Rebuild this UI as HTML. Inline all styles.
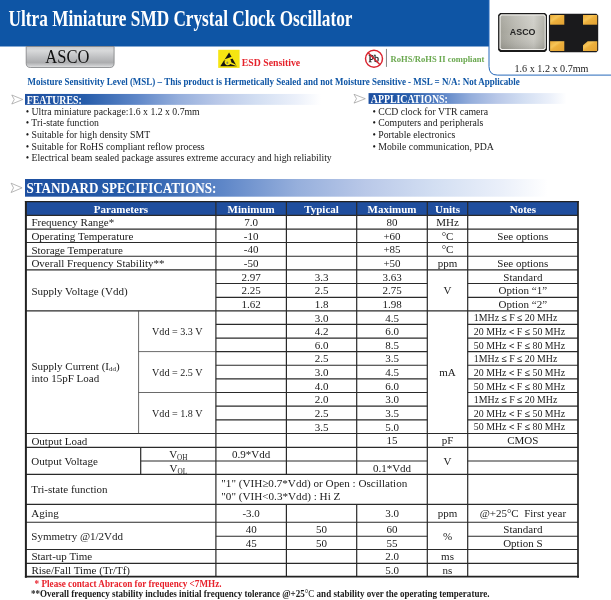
<!DOCTYPE html>
<html lang="en"><head><meta charset="utf-8"><title>Ultra Miniature SMD Crystal Clock Oscillator ASCO</title>
<style>
html,body{margin:0;padding:0;background:#fff;}
body{width:611px;height:600px;overflow:hidden;font-family:"Liberation Serif", serif;}
svg{display:block;font-family:"Liberation Serif", serif;}
text{white-space:pre;}
</style></head><body>
<svg width="611" height="600" viewBox="0 0 611 600">
<defs>
<linearGradient id="gbar" x1="0" x2="1" y1="0" y2="0"><stop offset="0" stop-color="#1d4fa0"/><stop offset="0.2" stop-color="#265caa"/><stop offset="0.38" stop-color="#5f87c8"/><stop offset="0.52" stop-color="#96afdc"/><stop offset="0.65" stop-color="#b9c8e8"/><stop offset="0.78" stop-color="#d2def2"/><stop offset="0.915" stop-color="#ebf0fa"/><stop offset="1" stop-color="#ffffff"/></linearGradient>
<linearGradient id="gtab" x1="0" x2="0" y1="0" y2="1"><stop offset="0" stop-color="#cbccce"/><stop offset="0.2" stop-color="#d8d9da"/><stop offset="0.5" stop-color="#c0c1c3"/><stop offset="0.76" stop-color="#acadaf"/><stop offset="0.9" stop-color="#c9cacc"/><stop offset="1" stop-color="#e4e5e6"/></linearGradient>
<linearGradient id="gsil" x1="0" x2="1" y1="0" y2="0"><stop offset="0" stop-color="#a3a299"/><stop offset="0.35" stop-color="#b9b8b0"/><stop offset="0.75" stop-color="#cdccc5"/><stop offset="1" stop-color="#adaca3"/></linearGradient>
<linearGradient id="gsilv" x1="0" x2="0" y1="0" y2="1"><stop offset="0" stop-color="#ffffff" stop-opacity="0.12"/><stop offset="0.5" stop-color="#ffffff" stop-opacity="0"/><stop offset="1" stop-color="#000000" stop-opacity="0.12"/></linearGradient>
<linearGradient id="ggold" x1="0" x2="1" y1="0" y2="1"><stop offset="0" stop-color="#eaa935"/><stop offset="0.35" stop-color="#f6c558"/><stop offset="0.5" stop-color="#edb03c"/><stop offset="1" stop-color="#e3a233"/></linearGradient>
</defs>
<rect x="0" y="0" width="489" height="46.5" fill="#0e55a5"/>
<path d="M489 -2 V66.5 Q489 75.1 497.6 75.1 H613 V-2 Z" fill="#ffffff" stroke="#2568ba" stroke-width="1.0"/>
<text x="8.6" y="26.1" font-size="23.8" font-weight="bold" fill="#ffffff" textLength="343.8" lengthAdjust="spacingAndGlyphs">Ultra Miniature SMD Crystal Clock Oscillator</text>
<path d="M26.2 46.5 H114.1 V63.3 Q114.1 67.5 109.9 67.5 H30.4 Q26.2 67.5 26.2 63.3 Z" fill="url(#gtab)" stroke="#7d7f82" stroke-width="0.8"/>
<text x="45.3" y="63.3" font-size="17.8" fill="#111" textLength="44" lengthAdjust="spacingAndGlyphs">ASCO</text>
<rect x="218.2" y="49.8" width="21.4" height="18.1" fill="#f6e512"/>
<path d="M229.1 52.4 L236.8 66.3 H220.3 Z" fill="#141414"/>
<path d="M224.2 59.6 L232.4 56.6 L233.3 58.2 L230.2 59.6 Q231.6 60.6 231.2 62.2 L236.9 65.2 L236.3 65.9 L230.3 63.9 Q229 65.6 226.8 65.2 Q224.3 64.4 224.6 61.6 Q224.8 60.6 225.6 60.1 L223.6 60.8 Z" fill="#f6e512"/>
<ellipse cx="227.4" cy="62.7" rx="1" ry="1.3" fill="#8f8a4a"/>
<text x="241.8" y="65.5" font-size="10.9" font-weight="bold" fill="#e5222b" textLength="58.4" lengthAdjust="spacingAndGlyphs">ESD Sensitive</text>
<text x="368.5" y="61.9" font-size="11" fill="#1a1a1a" textLength="10.5" lengthAdjust="spacingAndGlyphs" stroke="#1a1a1a" stroke-width="0.3">Pb</text>
<circle cx="374" cy="58.65" r="8.5" fill="none" stroke="#d9232e" stroke-width="1.45"/>
<line x1="368.2" y1="52.85" x2="379.8" y2="64.45" stroke="#d9232e" stroke-width="1.4"/>
<line x1="386.45" y1="48.9" x2="386.45" y2="66.9" stroke="#858585" stroke-width="1.0"/>
<text x="390.6" y="61.6" font-size="9.2" font-weight="bold" fill="#6aa84f" textLength="93.7" lengthAdjust="spacingAndGlyphs">RoHS/RoHS II compliant</text>
<path d="M500.1 13.1 H545 L547 15.1 V50 L545 52 H500.1 L498.1 50 V15.1 Z" fill="#1b1b1b"/>
<path d="M501.0 14.3 H544.1999999999999 L545.8 15.9 V48.5 L544.1999999999999 50.1 H501.0 L499.4 48.5 V15.9 Z" fill="#f2f1ed"/>
<path d="M501.8 15.5 H543.5 L544.7 16.7 V47.8 L543.5 49.0 H501.8 L500.6 47.8 V16.7 Z" fill="url(#gsil)"/>
<path d="M501.8 15.5 H543.5 L544.7 16.7 V47.8 L543.5 49.0 H501.8 L500.6 47.8 V16.7 Z" fill="url(#gsilv)"/>
<text x="522.7" y="34.8" font-size="8.9" font-weight="bold" fill="#242424" text-anchor="middle" font-family='"Liberation Sans", sans-serif'>ASCO</text>
<path d="M550.6999999999999 13.7 H596.4000000000001 L598.2 15.5 V50.400000000000006 L596.4000000000001 52.2 H550.6999999999999 L548.9 50.400000000000006 V15.5 Z" fill="#1a1a1c"/>
<path d="M550.1 15 H564.3 V24.7 H550.1 Z" fill="url(#ggold)"/>
<path d="M583 15 H597.2 V24.7 H583 Z" fill="url(#ggold)"/>
<path d="M550.1 41.2 H564.3 V51 H550.1 Z" fill="url(#ggold)"/>
<path d="M587.7 41.2 H597.2 V51 H583 V45.3 Z" fill="url(#ggold)"/>
<text x="514.5" y="71.5" font-size="10.7" fill="#222" textLength="74" lengthAdjust="spacingAndGlyphs">1.6 x 1.2 x 0.7mm</text>
<text x="27.5" y="85.4" font-size="9.3" font-weight="bold" fill="#0e55a5" textLength="492.3" lengthAdjust="spacingAndGlyphs">Moisture Sensitivity Level (MSL) – This product is Hermetically Sealed and not Moisture Sensitive - MSL = N/A: Not Applicable</text>
<path d="M11.8 95 L22.8 99.5 L11.8 104 L14.22 99.5 Z" fill="#fff" stroke="#9a9a9a" stroke-width="0.7"/>
<rect x="25" y="93.95" width="296" height="10.9" fill="url(#gbar)"/>
<text x="26.7" y="104" font-size="12.3" font-weight="bold" fill="#fff" textLength="55" lengthAdjust="spacingAndGlyphs">FEATURES:</text>
<text x="25.7" y="115" font-size="9.75" fill="#1a1a1a">• Ultra miniature package:1.6 x 1.2 x 0.7mm</text>
<text x="25.7" y="126" font-size="9.75" fill="#1a1a1a">• Tri-state function</text>
<text x="25.7" y="138" font-size="9.75" fill="#1a1a1a">• Suitable for high density SMT</text>
<text x="25.7" y="150" font-size="9.75" fill="#1a1a1a">• Suitable for RoHS compliant reflow process</text>
<text x="25.7" y="161" font-size="9.75" fill="#1a1a1a">• Electrical beam sealed package assures extreme accuracy and high reliability</text>
<path d="M354 94.3 L365.3 98.7 L354 103.1 L356.486 98.7 Z" fill="#fff" stroke="#9a9a9a" stroke-width="0.7"/>
<rect x="368.55" y="93.1" width="198" height="10.8" fill="url(#gbar)"/>
<text x="370.8" y="102.7" font-size="12.3" font-weight="bold" fill="#fff" textLength="77" lengthAdjust="spacingAndGlyphs">APPLICATIONS:</text>
<text x="372.4" y="115" font-size="9.75" fill="#1a1a1a">• CCD clock for VTR camera</text>
<text x="372.4" y="126" font-size="9.75" fill="#1a1a1a">• Computers and peripherals</text>
<text x="372.4" y="138" font-size="9.75" fill="#1a1a1a">• Portable electronics</text>
<text x="372.4" y="150" font-size="9.75" fill="#1a1a1a">• Mobile communication, PDA</text>
<path d="M11.1 183.2 L22.1 187.85 L11.1 192.5 L13.52 187.85 Z" fill="#fff" stroke="#9a9a9a" stroke-width="0.7"/>
<rect x="25" y="179" width="523" height="17.7" fill="url(#gbar)"/>
<text x="26.5" y="193" font-size="14.6" font-weight="bold" fill="#fff" textLength="190" lengthAdjust="spacingAndGlyphs">STANDARD SPECIFICATIONS:</text>
<rect x="25.9" y="201.6" width="552.1" height="13.700000000000017" fill="#1f4e9e"/>
<line x1="25.9" y1="215.3" x2="578.0" y2="215.3" stroke="#2a2a2a" stroke-width="1.15"/>
<line x1="25.9" y1="229.1" x2="578.0" y2="229.1" stroke="#2a2a2a" stroke-width="1.15"/>
<line x1="25.9" y1="242.5" x2="578.0" y2="242.5" stroke="#2a2a2a" stroke-width="1.15"/>
<line x1="25.9" y1="256.2" x2="578.0" y2="256.2" stroke="#2a2a2a" stroke-width="1.15"/>
<line x1="25.9" y1="269.9" x2="578.0" y2="269.9" stroke="#2a2a2a" stroke-width="1.15"/>
<line x1="25.9" y1="310.8" x2="578.0" y2="310.8" stroke="#2a2a2a" stroke-width="1.15"/>
<line x1="25.9" y1="433.5" x2="578.0" y2="433.5" stroke="#2a2a2a" stroke-width="1.15"/>
<line x1="25.9" y1="447.4" x2="578.0" y2="447.4" stroke="#2a2a2a" stroke-width="1.15"/>
<line x1="25.9" y1="474.3" x2="578.0" y2="474.3" stroke="#2a2a2a" stroke-width="1.15"/>
<line x1="25.9" y1="504.4" x2="578.0" y2="504.4" stroke="#2a2a2a" stroke-width="1.15"/>
<line x1="25.9" y1="522.2" x2="578.0" y2="522.2" stroke="#2a2a2a" stroke-width="1.15"/>
<line x1="25.9" y1="549.5" x2="578.0" y2="549.5" stroke="#2a2a2a" stroke-width="1.15"/>
<line x1="25.9" y1="563.3" x2="578.0" y2="563.3" stroke="#2a2a2a" stroke-width="1.15"/>
<line x1="215.9" y1="283.5" x2="427.3" y2="283.5" stroke="#2a2a2a" stroke-width="1.15"/>
<line x1="467.7" y1="283.5" x2="578.0" y2="283.5" stroke="#2a2a2a" stroke-width="1.15"/>
<line x1="215.9" y1="297.3" x2="427.3" y2="297.3" stroke="#2a2a2a" stroke-width="1.15"/>
<line x1="467.7" y1="297.3" x2="578.0" y2="297.3" stroke="#2a2a2a" stroke-width="1.15"/>
<line x1="215.9" y1="324.3" x2="427.3" y2="324.3" stroke="#2a2a2a" stroke-width="1.15"/>
<line x1="467.7" y1="324.3" x2="578.0" y2="324.3" stroke="#2a2a2a" stroke-width="1.15"/>
<line x1="215.9" y1="338.1" x2="427.3" y2="338.1" stroke="#2a2a2a" stroke-width="1.15"/>
<line x1="467.7" y1="338.1" x2="578.0" y2="338.1" stroke="#2a2a2a" stroke-width="1.15"/>
<line x1="215.9" y1="351.6" x2="427.3" y2="351.6" stroke="#2a2a2a" stroke-width="1.15"/>
<line x1="467.7" y1="351.6" x2="578.0" y2="351.6" stroke="#2a2a2a" stroke-width="1.15"/>
<line x1="215.9" y1="365.2" x2="427.3" y2="365.2" stroke="#2a2a2a" stroke-width="1.15"/>
<line x1="467.7" y1="365.2" x2="578.0" y2="365.2" stroke="#2a2a2a" stroke-width="1.15"/>
<line x1="215.9" y1="378.9" x2="427.3" y2="378.9" stroke="#2a2a2a" stroke-width="1.15"/>
<line x1="467.7" y1="378.9" x2="578.0" y2="378.9" stroke="#2a2a2a" stroke-width="1.15"/>
<line x1="215.9" y1="392.5" x2="427.3" y2="392.5" stroke="#2a2a2a" stroke-width="1.15"/>
<line x1="467.7" y1="392.5" x2="578.0" y2="392.5" stroke="#2a2a2a" stroke-width="1.15"/>
<line x1="215.9" y1="406.1" x2="427.3" y2="406.1" stroke="#2a2a2a" stroke-width="1.15"/>
<line x1="467.7" y1="406.1" x2="578.0" y2="406.1" stroke="#2a2a2a" stroke-width="1.15"/>
<line x1="215.9" y1="419.8" x2="427.3" y2="419.8" stroke="#2a2a2a" stroke-width="1.15"/>
<line x1="467.7" y1="419.8" x2="578.0" y2="419.8" stroke="#2a2a2a" stroke-width="1.15"/>
<line x1="138.6" y1="351.6" x2="215.9" y2="351.6" stroke="#444" stroke-width="0.8"/>
<line x1="138.6" y1="392.5" x2="215.9" y2="392.5" stroke="#444" stroke-width="0.8"/>
<line x1="138.6" y1="310.8" x2="138.6" y2="433.5" stroke="#444" stroke-width="0.8"/>
<line x1="140.7" y1="461.0" x2="427.3" y2="461.0" stroke="#2a2a2a" stroke-width="1.15"/>
<line x1="467.7" y1="461.0" x2="578.0" y2="461.0" stroke="#2a2a2a" stroke-width="1.15"/>
<line x1="140.7" y1="447.4" x2="140.7" y2="474.3" stroke="#2a2a2a" stroke-width="1.2"/>
<line x1="215.9" y1="536.2" x2="427.3" y2="536.2" stroke="#2a2a2a" stroke-width="1.15"/>
<line x1="467.7" y1="536.2" x2="578.0" y2="536.2" stroke="#2a2a2a" stroke-width="1.15"/>
<line x1="215.9" y1="201.6" x2="215.9" y2="576.8" stroke="#2a2a2a" stroke-width="1.2"/>
<line x1="286.4" y1="201.6" x2="286.4" y2="474.3" stroke="#2a2a2a" stroke-width="1.2"/>
<line x1="286.4" y1="504.4" x2="286.4" y2="576.8" stroke="#2a2a2a" stroke-width="1.2"/>
<line x1="356.7" y1="201.6" x2="356.7" y2="474.3" stroke="#2a2a2a" stroke-width="1.2"/>
<line x1="356.7" y1="504.4" x2="356.7" y2="576.8" stroke="#2a2a2a" stroke-width="1.2"/>
<line x1="427.3" y1="201.6" x2="427.3" y2="576.8" stroke="#2a2a2a" stroke-width="1.2"/>
<line x1="467.7" y1="201.6" x2="467.7" y2="576.8" stroke="#2a2a2a" stroke-width="1.2"/>
<line x1="25.9" y1="201.0" x2="25.9" y2="577.8" stroke="#222" stroke-width="2.0"/>
<line x1="578.0" y1="201.0" x2="578.0" y2="577.8" stroke="#222" stroke-width="1.7"/>
<line x1="24.9" y1="201.6" x2="578.85" y2="201.6" stroke="#222" stroke-width="1.3"/>
<line x1="24.9" y1="576.5999999999999" x2="578.85" y2="576.5999999999999" stroke="#222" stroke-width="1.8"/>
<text x="120.9" y="212.79999999999998" font-size="11" font-weight="bold" fill="#fff" text-anchor="middle">Parameters</text>
<text x="251.14999999999998" y="212.79999999999998" font-size="11" font-weight="bold" fill="#fff" text-anchor="middle">Minimum</text>
<text x="321.54999999999995" y="212.79999999999998" font-size="11" font-weight="bold" fill="#fff" text-anchor="middle">Typical</text>
<text x="392.0" y="212.79999999999998" font-size="11" font-weight="bold" fill="#fff" text-anchor="middle">Maximum</text>
<text x="447.5" y="212.79999999999998" font-size="11" font-weight="bold" fill="#fff" text-anchor="middle">Units</text>
<text x="522.85" y="212.79999999999998" font-size="11" font-weight="bold" fill="#fff" text-anchor="middle">Notes</text>
<text x="31.4" y="226.45000000000002" font-size="11" fill="#1a1a1a">Frequency Range*</text>
<text x="251.14999999999998" y="226.10000000000002" font-size="11" fill="#1a1a1a" text-anchor="middle">7.0</text>
<text x="392.0" y="226.10000000000002" font-size="11" fill="#1a1a1a" text-anchor="middle">80</text>
<text x="447.5" y="226.10000000000002" font-size="11" fill="#1a1a1a" text-anchor="middle">MHz</text>
<text x="31.4" y="240.25" font-size="11" fill="#1a1a1a">Operating Temperature</text>
<text x="251.14999999999998" y="239.9" font-size="11" fill="#1a1a1a" text-anchor="middle">-10</text>
<text x="392.0" y="239.9" font-size="11" fill="#1a1a1a" text-anchor="middle">+60</text>
<text x="447.5" y="239.9" font-size="11" fill="#1a1a1a" text-anchor="middle">°C</text>
<text x="522.85" y="239.9" font-size="11" fill="#1a1a1a" text-anchor="middle">See options</text>
<text x="31.4" y="253.65" font-size="11" fill="#1a1a1a">Storage Temperature</text>
<text x="251.14999999999998" y="253.3" font-size="11" fill="#1a1a1a" text-anchor="middle">-40</text>
<text x="392.0" y="253.3" font-size="11" fill="#1a1a1a" text-anchor="middle">+85</text>
<text x="447.5" y="253.3" font-size="11" fill="#1a1a1a" text-anchor="middle">°C</text>
<text x="31.4" y="267.35" font-size="11" fill="#1a1a1a">Overall Frequency Stability**</text>
<text x="251.14999999999998" y="267.0" font-size="11" fill="#1a1a1a" text-anchor="middle">-50</text>
<text x="392.0" y="267.0" font-size="11" fill="#1a1a1a" text-anchor="middle">+50</text>
<text x="447.5" y="267.0" font-size="11" fill="#1a1a1a" text-anchor="middle">ppm</text>
<text x="522.85" y="267.0" font-size="11" fill="#1a1a1a" text-anchor="middle">See options</text>
<text x="251.14999999999998" y="280.7" font-size="11" fill="#1a1a1a" text-anchor="middle">2.97</text>
<text x="321.54999999999995" y="280.7" font-size="11" fill="#1a1a1a" text-anchor="middle">3.3</text>
<text x="392.0" y="280.7" font-size="11" fill="#1a1a1a" text-anchor="middle">3.63</text>
<text x="522.85" y="280.7" font-size="11" fill="#1a1a1a" text-anchor="middle">Standard</text>
<text x="31.4" y="294.65000000000003" font-size="11" fill="#1a1a1a">Supply Voltage (Vdd)</text>
<text x="251.14999999999998" y="294.3" font-size="11" fill="#1a1a1a" text-anchor="middle">2.25</text>
<text x="321.54999999999995" y="294.3" font-size="11" fill="#1a1a1a" text-anchor="middle">2.5</text>
<text x="392.0" y="294.3" font-size="11" fill="#1a1a1a" text-anchor="middle">2.75</text>
<text x="447.5" y="294.3" font-size="11" fill="#1a1a1a" text-anchor="middle">V</text>
<text x="522.85" y="294.3" font-size="11" fill="#1a1a1a" text-anchor="middle">Option “1”</text>
<text x="251.14999999999998" y="308.1" font-size="11" fill="#1a1a1a" text-anchor="middle">1.62</text>
<text x="321.54999999999995" y="308.1" font-size="11" fill="#1a1a1a" text-anchor="middle">1.8</text>
<text x="392.0" y="308.1" font-size="11" fill="#1a1a1a" text-anchor="middle">1.98</text>
<text x="522.85" y="308.1" font-size="11" fill="#1a1a1a" text-anchor="middle">Option “2”</text>
<text x="321.54999999999995" y="321.6" font-size="11" fill="#1a1a1a" text-anchor="middle">3.0</text>
<text x="392.0" y="321.6" font-size="11" fill="#1a1a1a" text-anchor="middle">4.5</text>
<text x="473.8" y="321.40000000000003" font-size="9.9" fill="#1a1a1a">1MHz <tspan font-family="Liberation Sans, sans-serif" font-size="9.4">≤</tspan> F <tspan font-family="Liberation Sans, sans-serif" font-size="9.4">≤</tspan> 20 MHz</text>
<text x="321.54999999999995" y="335.1" font-size="11" fill="#1a1a1a" text-anchor="middle">4.2</text>
<text x="392.0" y="335.1" font-size="11" fill="#1a1a1a" text-anchor="middle">6.0</text>
<text x="473.8" y="334.90000000000003" font-size="9.9" fill="#1a1a1a">20 MHz <tspan font-family="Liberation Sans, sans-serif" font-size="9.4">&lt;</tspan> F <tspan font-family="Liberation Sans, sans-serif" font-size="9.4">≤</tspan> 50 MHz</text>
<text x="321.54999999999995" y="348.90000000000003" font-size="11" fill="#1a1a1a" text-anchor="middle">6.0</text>
<text x="392.0" y="348.90000000000003" font-size="11" fill="#1a1a1a" text-anchor="middle">8.5</text>
<text x="473.8" y="348.70000000000005" font-size="9.9" fill="#1a1a1a">50 MHz <tspan font-family="Liberation Sans, sans-serif" font-size="9.4">&lt;</tspan> F <tspan font-family="Liberation Sans, sans-serif" font-size="9.4">≤</tspan> 80 MHz</text>
<text x="321.54999999999995" y="362.40000000000003" font-size="11" fill="#1a1a1a" text-anchor="middle">2.5</text>
<text x="392.0" y="362.40000000000003" font-size="11" fill="#1a1a1a" text-anchor="middle">3.5</text>
<text x="473.8" y="362.20000000000005" font-size="9.9" fill="#1a1a1a">1MHz <tspan font-family="Liberation Sans, sans-serif" font-size="9.4">≤</tspan> F <tspan font-family="Liberation Sans, sans-serif" font-size="9.4">≤</tspan> 20 MHz</text>
<text x="321.54999999999995" y="376.0" font-size="11" fill="#1a1a1a" text-anchor="middle">3.0</text>
<text x="392.0" y="376.0" font-size="11" fill="#1a1a1a" text-anchor="middle">4.5</text>
<text x="473.8" y="375.8" font-size="9.9" fill="#1a1a1a">20 MHz <tspan font-family="Liberation Sans, sans-serif" font-size="9.4">&lt;</tspan> F <tspan font-family="Liberation Sans, sans-serif" font-size="9.4">≤</tspan> 50 MHz</text>
<text x="321.54999999999995" y="389.7" font-size="11" fill="#1a1a1a" text-anchor="middle">4.0</text>
<text x="392.0" y="389.7" font-size="11" fill="#1a1a1a" text-anchor="middle">6.0</text>
<text x="473.8" y="389.5" font-size="9.9" fill="#1a1a1a">50 MHz <tspan font-family="Liberation Sans, sans-serif" font-size="9.4">&lt;</tspan> F <tspan font-family="Liberation Sans, sans-serif" font-size="9.4">≤</tspan> 80 MHz</text>
<text x="321.54999999999995" y="403.3" font-size="11" fill="#1a1a1a" text-anchor="middle">2.0</text>
<text x="392.0" y="403.3" font-size="11" fill="#1a1a1a" text-anchor="middle">3.0</text>
<text x="473.8" y="403.1" font-size="9.9" fill="#1a1a1a">1MHz <tspan font-family="Liberation Sans, sans-serif" font-size="9.4">≤</tspan> F <tspan font-family="Liberation Sans, sans-serif" font-size="9.4">≤</tspan> 20 MHz</text>
<text x="321.54999999999995" y="416.90000000000003" font-size="11" fill="#1a1a1a" text-anchor="middle">2.5</text>
<text x="392.0" y="416.90000000000003" font-size="11" fill="#1a1a1a" text-anchor="middle">3.5</text>
<text x="473.8" y="416.70000000000005" font-size="9.9" fill="#1a1a1a">20 MHz <tspan font-family="Liberation Sans, sans-serif" font-size="9.4">&lt;</tspan> F <tspan font-family="Liberation Sans, sans-serif" font-size="9.4">≤</tspan> 50 MHz</text>
<text x="321.54999999999995" y="430.6" font-size="11" fill="#1a1a1a" text-anchor="middle">3.5</text>
<text x="392.0" y="430.6" font-size="11" fill="#1a1a1a" text-anchor="middle">5.0</text>
<text x="473.8" y="430.40000000000003" font-size="9.9" fill="#1a1a1a">50 MHz <tspan font-family="Liberation Sans, sans-serif" font-size="9.4">&lt;</tspan> F <tspan font-family="Liberation Sans, sans-serif" font-size="9.4">≤</tspan> 80 MHz</text>
<text x="447.5" y="376.0" font-size="11" fill="#1a1a1a" text-anchor="middle">mA</text>
<text x="177.25" y="335.1" font-size="10.1" fill="#1a1a1a" text-anchor="middle">Vdd = 3.3 V</text>
<text x="177.25" y="376.0" font-size="10.1" fill="#1a1a1a" text-anchor="middle">Vdd = 2.5 V</text>
<text x="177.25" y="416.90000000000003" font-size="10.1" fill="#1a1a1a" text-anchor="middle">Vdd = 1.8 V</text>
<text x="31.4" y="369.5" font-size="11" fill="#1a1a1a">Supply Current (I<tspan font-size="7" dy="1.5">dd</tspan><tspan dy="-1.5">)</tspan></text>
<text x="31.4" y="382.3" font-size="11" fill="#1a1a1a">into 15pF Load</text>
<text x="31.4" y="444.65000000000003" font-size="11" fill="#1a1a1a">Output Load</text>
<text x="392.0" y="444.3" font-size="11" fill="#1a1a1a" text-anchor="middle">15</text>
<text x="447.5" y="444.3" font-size="11" fill="#1a1a1a" text-anchor="middle">pF</text>
<text x="522.85" y="444.3" font-size="11" fill="#1a1a1a" text-anchor="middle">CMOS</text>
<text x="31.3" y="465.4" font-size="11" fill="#1a1a1a">Output Voltage</text>
<text x="178.3" y="458.2" font-size="11" fill="#1a1a1a" text-anchor="middle">V<tspan font-size="7.2" dy="1.7">OH</tspan></text>
<text x="178.3" y="471.8" font-size="11" fill="#1a1a1a" text-anchor="middle">V<tspan font-size="7.2" dy="1.7">OL</tspan></text>
<text x="251.14999999999998" y="458.2" font-size="11" fill="#1a1a1a" text-anchor="middle">0.9*Vdd</text>
<text x="392.0" y="471.8" font-size="11" fill="#1a1a1a" text-anchor="middle">0.1*Vdd</text>
<text x="447.5" y="465.4" font-size="11" fill="#1a1a1a" text-anchor="middle">V</text>
<text x="31.3" y="493" font-size="11" fill="#1a1a1a">Tri-state function</text>
<text x="221.3" y="487" font-size="11.15" fill="#1a1a1a">"1" (VIH≥0.7*Vdd) or Open : Oscillation</text>
<text x="221.3" y="499.6" font-size="11.15" fill="#1a1a1a">"0" (VIH&lt;0.3*Vdd) : Hi Z</text>
<text x="31.3" y="517.4" font-size="11" fill="#1a1a1a">Aging</text>
<text x="251.14999999999998" y="517.4" font-size="11" fill="#1a1a1a" text-anchor="middle">-3.0</text>
<text x="392.0" y="517.4" font-size="11" fill="#1a1a1a" text-anchor="middle">3.0</text>
<text x="447.5" y="517.4" font-size="11" fill="#1a1a1a" text-anchor="middle">ppm</text>
<text x="522.85" y="517.4" font-size="11" fill="#1a1a1a" text-anchor="middle">@+25°C  First year</text>
<text x="251.14999999999998" y="533.0" font-size="11" fill="#1a1a1a" text-anchor="middle">40</text>
<text x="321.54999999999995" y="533.0" font-size="11" fill="#1a1a1a" text-anchor="middle">50</text>
<text x="392.0" y="533.0" font-size="11" fill="#1a1a1a" text-anchor="middle">60</text>
<text x="522.85" y="533.0" font-size="11" fill="#1a1a1a" text-anchor="middle">Standard</text>
<text x="251.14999999999998" y="547.0" font-size="11" fill="#1a1a1a" text-anchor="middle">45</text>
<text x="321.54999999999995" y="547.0" font-size="11" fill="#1a1a1a" text-anchor="middle">50</text>
<text x="392.0" y="547.0" font-size="11" fill="#1a1a1a" text-anchor="middle">55</text>
<text x="522.85" y="547.0" font-size="11" fill="#1a1a1a" text-anchor="middle">Option S</text>
<text x="31.3" y="540.2" font-size="11" fill="#1a1a1a">Symmetry @1/2Vdd</text>
<text x="447.5" y="540.2" font-size="11" fill="#1a1a1a" text-anchor="middle">%</text>
<text x="31.4" y="560.0" font-size="11" fill="#1a1a1a">Start-up Time</text>
<text x="392.0" y="560.3" font-size="11" fill="#1a1a1a" text-anchor="middle">2.0</text>
<text x="447.5" y="560.3" font-size="11" fill="#1a1a1a" text-anchor="middle">ms</text>
<text x="31.4" y="573.8" font-size="11" fill="#1a1a1a">Rise/Fall Time (Tr/Tf)</text>
<text x="392.0" y="574.0999999999999" font-size="11" fill="#1a1a1a" text-anchor="middle">5.0</text>
<text x="447.5" y="574.0999999999999" font-size="11" fill="#1a1a1a" text-anchor="middle">ns</text>
<text x="34.6" y="587" font-size="10.2" font-weight="bold" fill="#e8202a" textLength="186.9" lengthAdjust="spacingAndGlyphs">* Please contact Abracon for frequency &lt;7MHz.</text>
<text x="31" y="597" font-size="10" font-weight="bold" fill="#1a1a1a" textLength="458.5" lengthAdjust="spacingAndGlyphs">**Overall frequency stability includes initial frequency tolerance @+25<tspan font-weight="normal">°C</tspan> and stability over the operating temperature.</text>
</svg>
</body></html>
